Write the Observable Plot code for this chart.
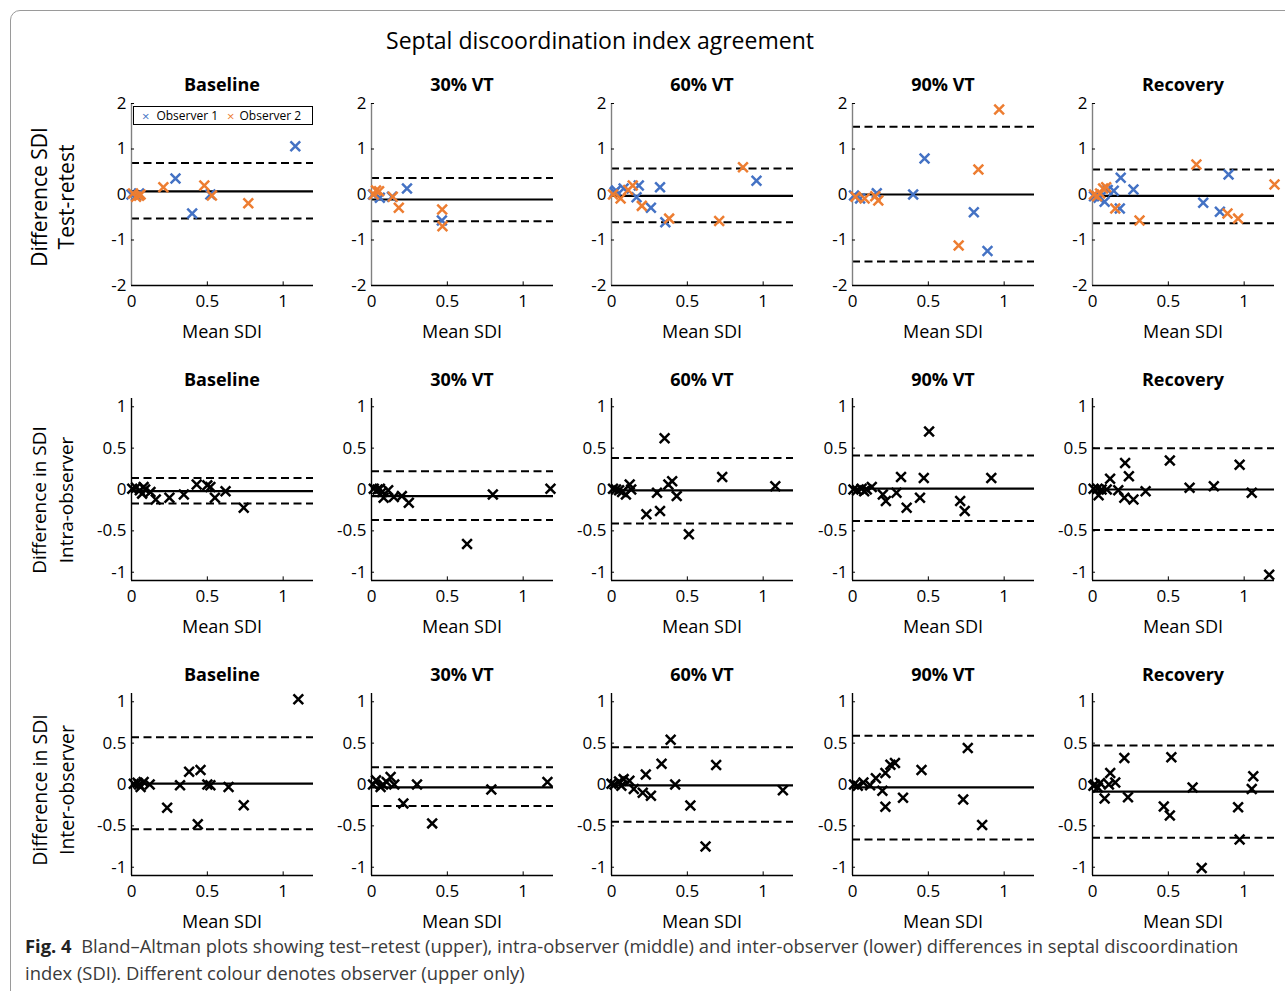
<!DOCTYPE html>
<html><head><meta charset="utf-8">
<script src="https://cdn.jsdelivr.net/npm/d3@7"></script>
<script src="https://cdn.jsdelivr.net/npm/@observablehq/plot@0.6"></script>
<style>
body{margin:0;background:#fff;font-family:"Open Sans",sans-serif;color:#000;}
#page{position:relative;width:1285px;height:991px;overflow:hidden;background:#fff;}
.frame{position:absolute;left:10px;top:10px;width:1300px;height:1010px;border:1px solid #9a9a9a;border-radius:10px;}
.abs{position:absolute;white-space:nowrap;}
.ctr{transform:translate(-50%,-50%);}
.title{font-size:18px;font-weight:700;}
.xlab{font-size:18px;}
.ylab{font-size:19.5px;transform:translate(-50%,-50%) rotate(-90deg);}
.legend{position:absolute;border:1px solid #000;background:#fff;font-size:12px;display:flex;align-items:center;box-sizing:border-box;}
.cap{font-size:18.4px;color:#3a3a3a;}
svg{overflow:visible;}
</style>
</head><body>
<div id="page"><div class="frame"></div></div>
<script>
// ---------- labels ----------
const mainTitle = "Septal discoordination index agreement";
const panelTitles = ["Baseline", "30% VT", "60% VT", "90% VT", "Recovery"];
const rowLabels = [["Difference SDI", "Test-retest"], ["Difference in SDI", "Intra-observer"], ["Difference in SDI", "Inter-observer"]];
const xLabel = "Mean SDI";
const legendLabels = ["Observer 1", "Observer 2"];
const xTicks = [0, 0.5, 1];
const yTicksTop = [-2, -1, 0, 1, 2];
const yTicksLower = [-1, -0.5, 0, 0.5, 1];
const captionBold = "Fig. 4";
const captionLine1 = "Bland–Altman plots showing test–retest (upper), intra-observer (middle) and inter-observer (lower) differences in septal discoordination";
const captionLine2 = "index (SDI). Different colour denotes observer (upper only)";

// ---------- test-retest (observer 1 / observer 2) ----------
const trBaselineObs1 = [[0.00,0.00],[0.03,-0.03],[0.05,0.02],[0.29,0.35],[0.40,-0.42],[0.52,0.00],[1.08,1.06]];
const trBaselineObs2 = [[0.01,0.02],[0.03,-0.05],[0.05,-0.03],[0.06,0.00],[0.21,0.16],[0.48,0.20],[0.53,-0.02],[0.77,-0.19]];
const tr30Obs1 = [[0.01,0.00],[0.055,-0.07],[0.135,-0.05],[0.234,0.13],[0.464,-0.57]];
const tr30Obs2 = [[0.015,0.00],[0.03,0.09],[0.05,0.07],[0.14,-0.05],[0.18,-0.29],[0.466,-0.33],[0.468,-0.70]];
const tr60Obs1 = [[0.02,0.05],[0.03,0.09],[0.08,0.13],[0.165,-0.06],[0.18,0.20],[0.26,-0.29],[0.32,0.16],[0.355,-0.61],[0.956,0.30]];
const tr60Obs2 = [[0.01,0.00],[0.06,-0.09],[0.11,0.10],[0.14,0.20],[0.20,-0.25],[0.38,-0.53],[0.71,-0.58],[0.867,0.60]];
const tr90Obs1 = [[0.01,-0.02],[0.05,-0.09],[0.16,0.03],[0.40,0.00],[0.475,0.79],[0.80,-0.39],[0.89,-1.24]];
const tr90Obs2 = [[0.02,-0.05],[0.08,-0.09],[0.15,-0.04],[0.17,-0.13],[0.70,-1.12],[0.83,0.55],[0.967,1.87]];
const trRecObs1 = [[0.01,-0.04],[0.04,-0.07],[0.08,-0.16],[0.10,0.10],[0.14,0.08],[0.18,-0.31],[0.186,0.37],[0.27,0.11],[0.73,-0.18],[0.84,-0.38],[0.897,0.44]];
const trRecObs2 = [[0.01,0.00],[0.03,-0.04],[0.05,0.02],[0.07,0.13],[0.09,0.16],[0.15,-0.31],[0.31,-0.57],[0.685,0.66],[0.89,-0.42],[0.96,-0.53],[1.2,0.22]];
const trMean  = [0.07, -0.11, -0.03, 0.00, -0.03];
const trUpper = [0.69, 0.36, 0.57, 1.49, 0.55];
const trLower = [-0.53, -0.59, -0.61, -1.47, -0.63];

// ---------- intra-observer ----------
const intraBaseline = [[0.005,0.01],[0.03,0.02],[0.055,-0.01],[0.07,-0.05],[0.08,0.03],[0.09,0.0],[0.125,-0.03],[0.16,-0.12],[0.25,-0.10],[0.345,-0.06],[0.43,0.06],[0.50,0.05],[0.52,0.03],[0.55,-0.10],[0.62,-0.02],[0.74,-0.22]];
const intra30 = [[0.015,0.01],[0.04,0.0],[0.055,0.01],[0.07,-0.03],[0.08,-0.10],[0.11,-0.01],[0.147,-0.09],[0.20,-0.08],[0.246,-0.16],[0.63,-0.66],[0.80,-0.06],[1.18,0.01]];
const intra60 = [[0.01,0.01],[0.03,0.0],[0.05,-0.01],[0.07,-0.03],[0.095,-0.06],[0.12,0.06],[0.13,0.0],[0.23,-0.30],[0.30,-0.04],[0.32,-0.26],[0.35,0.62],[0.375,0.06],[0.40,0.10],[0.43,-0.08],[0.51,-0.54],[0.73,0.15],[1.08,0.04]];
const intra90 = [[0.006,0.0],[0.03,-0.01],[0.06,0.01],[0.077,-0.02],[0.094,0.0],[0.127,0.03],[0.20,-0.06],[0.22,-0.14],[0.29,-0.04],[0.32,0.15],[0.357,-0.22],[0.445,-0.10],[0.47,0.14],[0.505,0.70],[0.71,-0.14],[0.74,-0.26],[0.915,0.14]];
const intraRec = [[0.007,0.01],[0.033,0.01],[0.04,-0.07],[0.06,0.0],[0.094,0.0],[0.116,0.13],[0.17,-0.01],[0.21,-0.10],[0.215,0.32],[0.24,0.16],[0.27,-0.12],[0.35,-0.02],[0.51,0.35],[0.64,0.02],[0.80,0.04],[0.97,0.30],[1.05,-0.04],[1.165,-1.03]];
const intraMean  = [-0.02, -0.08, -0.01, 0.01, 0.00];
const intraUpper = [0.14, 0.22, 0.38, 0.41, 0.50];
const intraLower = [-0.17, -0.37, -0.41, -0.38, -0.49];

// ---------- inter-observer ----------
const interBaseline = [[0.015,0.01],[0.04,0.02],[0.05,0.0],[0.06,-0.03],[0.08,0.03],[0.12,0.0],[0.235,-0.28],[0.32,-0.01],[0.38,0.155],[0.437,-0.48],[0.455,0.175],[0.50,0.0],[0.52,-0.01],[0.64,-0.03],[0.74,-0.25],[1.10,1.03]];
const inter30 = [[0.01,0.0],[0.03,0.05],[0.06,-0.03],[0.076,0.0],[0.10,0.03],[0.126,0.09],[0.15,0.0],[0.21,-0.23],[0.30,0.0],[0.40,-0.47],[0.79,-0.06],[1.16,0.03]];
const inter60 = [[0.0,0.01],[0.02,0.0],[0.05,0.035],[0.065,-0.015],[0.08,0.065],[0.118,0.045],[0.147,-0.055],[0.206,-0.10],[0.226,0.12],[0.26,-0.135],[0.33,0.25],[0.39,0.54],[0.42,0.0],[0.52,-0.255],[0.62,-0.75],[0.69,0.235],[1.13,-0.07]];
const inter90 = [[0.01,0.0],[0.035,-0.015],[0.072,0.025],[0.116,-0.01],[0.154,0.075],[0.197,-0.075],[0.217,0.14],[0.217,-0.27],[0.25,0.24],[0.28,0.26],[0.333,-0.16],[0.455,0.175],[0.73,-0.18],[0.76,0.44],[0.855,-0.49]];
const interRec = [[0.006,-0.015],[0.015,0.0],[0.035,-0.035],[0.05,0.018],[0.08,-0.17],[0.108,0.0],[0.117,0.14],[0.15,0.025],[0.21,0.32],[0.234,-0.155],[0.47,-0.265],[0.51,-0.375],[0.52,0.33],[0.66,-0.035],[0.72,-1.01],[0.96,-0.275],[0.97,-0.665],[1.05,-0.055],[1.06,0.10]];
const interMean  = [0.01, -0.035, -0.01, -0.035, -0.085];
const interUpper = [0.57, 0.21, 0.45, 0.59, 0.47];
const interLower = [-0.54, -0.26, -0.45, -0.665, -0.645];

// ---------- build ----------
const BLUE = "#4472c4", ORANGE = "#ed7d31", BLACK = "#000";
const page = document.getElementById("page");
const colX = [131, 371, 611, 852, 1092];
const rowTop = [103, 398, 693];
const plotW = 182, plotH = 182;
const mL = 40, mR = 10, mT = 10, mB = 40;

function addDiv(cls, text, x, y, extra) {
  const d = document.createElement("div");
  d.className = "abs " + cls;
  d.textContent = text;
  d.style.left = x + "px"; d.style.top = y + "px";
  if (extra) Object.assign(d.style, extra);
  page.appendChild(d);
  return d;
}

function toRows(pairs, series) { return pairs.map(([x, y]) => ({x, y, series})); }

function panel(rowIdx, colIdx, data, mean, upper, lower, yDomain, yTicks, yAxisColor) {
  const span = yDomain[1] - yDomain[0];
  const tk = span * 0.02;
  const fmt = d => String(d);
  const svg = Plot.plot({
    width: mL + plotW + mR, height: mT + plotH + mB,
    marginLeft: mL, marginRight: mR, marginTop: mT, marginBottom: mB,
    x: {domain: [0, 1.2]}, y: {domain: yDomain},
    style: {fontFamily: "Open Sans", fontSize: "17px", color: "#000", background: "transparent", overflow: "visible"},
    marks: [
      Plot.ruleY([upper, lower], {stroke: "#000", strokeWidth: 2, strokeDasharray: "8,4.5"}),
      Plot.ruleY([mean], {stroke: "#000", strokeWidth: 2.2}),
      Plot.ruleX([0], {stroke: yAxisColor, strokeWidth: 1.4}),
      Plot.ruleY([yDomain[0]], {stroke: "#000", strokeWidth: 1.4}),
      Plot.ruleX(xTicks.filter(d => d > 0), {y1: yDomain[0], y2: yDomain[0] + tk, stroke: "#000", strokeWidth: 1}),
      Plot.ruleY(yTicks, {x1: 0, x2: 0.02, stroke: "#000", strokeWidth: 1}),
      Plot.axisX(xTicks, {tickSize: 0, tickPadding: 9, tickFormat: fmt, label: null}),
      Plot.axisY(yTicks, {tickSize: 0, tickPadding: 5, tickFormat: fmt, label: null}),
      Plot.dot(data, {x: "x", y: "y", symbol: "times", r: 4.5, stroke: "series", fill: "none", strokeWidth: 2.5})
    ],
    color: {type: "identity"}
  });
  svg.style.position = "absolute";
  svg.style.left = (colX[colIdx] - mL) + "px";
  svg.style.top = (rowTop[rowIdx] - mT) + "px";
  page.appendChild(svg);
  const cx = colX[colIdx] + plotW / 2;
  addDiv("title ctr", panelTitles[colIdx], cx, rowTop[rowIdx] - 19);
  addDiv("xlab ctr", xLabel, cx, rowTop[rowIdx] + plotH + 46);
}

const trSets = [[trBaselineObs1, trBaselineObs2], [tr30Obs1, tr30Obs2], [tr60Obs1, tr60Obs2], [tr90Obs1, tr90Obs2], [trRecObs1, trRecObs2]];
trSets.forEach(([a, b], i) => {
  panel(0, i, [...toRows(a, BLUE), ...toRows(b, ORANGE)], trMean[i], trUpper[i], trLower[i], [-2, 2], yTicksTop, "#808080");
});
const intraSets = [intraBaseline, intra30, intra60, intra90, intraRec];
intraSets.forEach((s, i) => panel(1, i, toRows(s, BLACK), intraMean[i], intraUpper[i], intraLower[i], [-1.1, 1.1], yTicksLower, "#000"));
const interSets = [interBaseline, inter30, inter60, inter90, interRec];
interSets.forEach((s, i) => panel(2, i, toRows(s, BLACK), interMean[i], interUpper[i], interLower[i], [-1.1, 1.1], yTicksLower, "#000"));

// row labels
const rowCenters = [197, 500, 790];
const rowFont = ["21px", "19px", "19.5px"];
rowLabels.forEach(([a, b], r) => {
  addDiv("ylab", a, 39, rowCenters[r], {fontSize: rowFont[r]});
  addDiv("ylab", b, 66, rowCenters[r], {fontSize: rowFont[r]});
});

// main title
addDiv("ctr", mainTitle, 600, 40, {fontSize: "23px"});

// legend
const lg = document.createElement("div");
lg.className = "legend";
Object.assign(lg.style, {left: "133px", top: "106px", width: "180px", height: "19px"});
lg.innerHTML = `<span style="color:${BLUE};margin-left:8px;font-size:13px">×</span><span style="margin-left:7px">${legendLabels[0]}</span>` +
  `<span style="color:${ORANGE};margin-left:9px;font-size:13px">×</span><span style="margin-left:5px">${legendLabels[1]}</span>`;
page.appendChild(lg);

// caption
const cap = document.createElement("div");
cap.className = "abs cap";
Object.assign(cap.style, {left: "25px", top: "932px", lineHeight: "27px"});
cap.innerHTML = `<b style="color:#222;font-weight:700">${captionBold}</b>&nbsp;&nbsp;${captionLine1}<br>${captionLine2}`;
page.appendChild(cap);
</script>
</body></html>
